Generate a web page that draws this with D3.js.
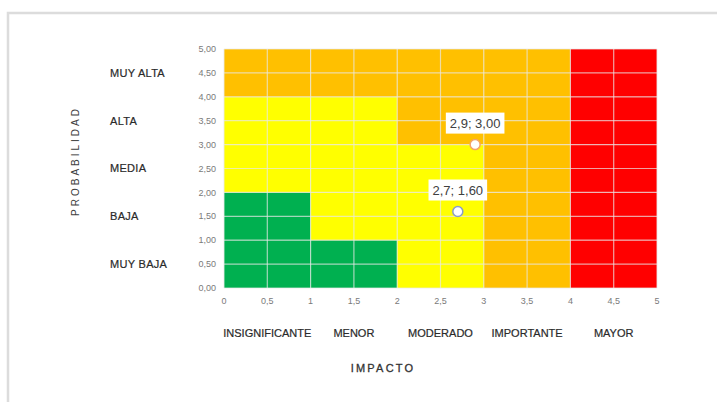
<!DOCTYPE html>
<html lang="es">
<head>
    <meta charset="UTF-8">
    <title>Matriz de riesgo</title>
    <script src="https://d3js.org/d3.v7.min.js"></script>
    <style>
        body { margin: 0; background: #fff; }
    </style>
</head>
<body>
<div id="chart"></div>
<script>
    // data ----------------------------------------------------------
    const probabilidad = ["MUY BAJA", "BAJA", "MEDIA", "ALTA", "MUY ALTA"];
    const impacto = ["INSIGNIFICANTE", "MENOR", "MODERADO", "IMPORTANTE", "MAYOR"];
    const xTicks = [0, 0.5, 1, 1.5, 2, 2.5, 3, 3.5, 4, 4.5, 5];
    const yTicks = [0, 0.5, 1, 1.5, 2, 2.5, 3, 3.5, 4, 4.5, 5];
    // risk level per cell, rows = probabilidad (bottom->top), cols = impacto
    const zonas = [
        ["bajo", "bajo", "medio", "alto", "extremo"],
        ["bajo", "medio", "medio", "alto", "extremo"],
        ["medio", "medio", "medio", "alto", "extremo"],
        ["medio", "medio", "alto", "alto", "extremo"],
        ["alto", "alto", "alto", "alto", "extremo"]
    ];
    const puntosX = [2.9, 2.7];
    const puntosY = [3.00, 1.60];
    const puntosColor = ["#f4a468", "#8a9cc8"];

    const colores = {bajo: "#00b050", medio: "#ffff00", alto: "#ffc000", extremo: "#ff0000"};

    const es = d3.formatLocale({decimal: ",", thousands: ".", grouping: [3], currency: ["", "€"]});
    const f2 = es.format(".2f");
    const f1 = es.format(".1f");
    const fx = v => Number.isInteger(v) ? String(v) : es.format(".1f")(v);

    // svg -----------------------------------------------------------
    const width = 717, height = 402;
    const svg = d3.select("#chart").append("svg")
        .attr("width", width)
        .attr("height", height);

    // outer frame
    svg.append("path")
        .attr("d", `M8,${height} L8,13 L${width},13`)
        .attr("fill", "none")
        .attr("stroke", "#dcdcdc")
        .attr("stroke-width", 2.5);

    const plot = {left: 224, right: 657, top: 49, bottom: 288};
    const x = d3.scaleLinear().domain([0, 5]).range([plot.left, plot.right]);
    const y = d3.scaleLinear().domain([0, 5]).range([plot.bottom, plot.top]);

    // cells
    zonas.forEach((fila, i) => {
        fila.forEach((z, j) => {
            svg.append("rect")
                .attr("x", x(j))
                .attr("y", y(i + 1))
                .attr("width", x(j + 1) - x(j))
                .attr("height", y(i) - y(i + 1))
                .attr("fill", colores[z]);
        });
    });

    // grid
    xTicks.forEach(t => {
        svg.append("line")
            .attr("x1", x(t)).attr("x2", x(t))
            .attr("y1", y(0)).attr("y2", y(5))
            .attr("stroke", "#e8e8e8")
            .attr("stroke-opacity", 0.7)
            .attr("stroke-width", 1.2);
    });
    yTicks.forEach(t => {
        svg.append("line")
            .attr("x1", x(0)).attr("x2", x(5))
            .attr("y1", y(t)).attr("y2", y(t))
            .attr("stroke", "#e8e8e8")
            .attr("stroke-opacity", 0.7)
            .attr("stroke-width", 1.2);
    });

    // tick labels
    yTicks.forEach(t => {
        svg.append("text")
            .attr("x", plot.left - 8)
            .attr("y", y(t))
            .attr("dy", "0.35em")
            .attr("text-anchor", "end")
            .attr("font-family", "Liberation Sans, Arial, sans-serif")
            .attr("font-size", 9)
            .attr("fill", "#7a7a7a")
            .text(f2(t));
    });
    xTicks.forEach(t => {
        svg.append("text")
            .attr("x", x(t))
            .attr("y", plot.bottom + 16)
            .attr("text-anchor", "middle")
            .attr("font-family", "Liberation Sans, Arial, sans-serif")
            .attr("font-size", 9)
            .attr("fill", "#7a7a7a")
            .text(fx(t));
    });

    // category labels
    probabilidad.forEach((p, i) => {
        svg.append("text")
            .attr("x", 110)
            .attr("y", y(i + 0.5))
            .attr("dy", "0.35em")
            .attr("font-family", "Liberation Sans, Arial, sans-serif")
            .attr("font-size", 11)
            .attr("letter-spacing", 0.3)
            .attr("fill", "#2a2a2a")
            .attr("stroke", "#2a2a2a")
            .attr("stroke-width", 0.2)
            .text(p);
    });
    impacto.forEach((c, j) => {
        svg.append("text")
            .attr("x", x(j + 0.5))
            .attr("y", 337)
            .attr("text-anchor", "middle")
            .attr("font-family", "Liberation Sans, Arial, sans-serif")
            .attr("font-size", 11)
            .attr("fill", "#2a2a2a")
            .attr("stroke", "#2a2a2a")
            .attr("stroke-width", 0.2)
            .text(c);
    });

    // axis titles
    svg.append("text")
        .attr("x", 383)
        .attr("y", 372)
        .attr("text-anchor", "middle")
        .attr("font-family", "Liberation Sans, Arial, sans-serif")
        .attr("font-size", 11)
        .attr("letter-spacing", 2.2)
        .attr("fill", "#333")
        .attr("stroke", "#333")
        .attr("stroke-width", 0.3)
        .text("IMPACTO");
    svg.append("text")
        .attr("transform", "translate(79,161) rotate(-90)")
        .attr("text-anchor", "middle")
        .attr("font-family", "Liberation Sans, Arial, sans-serif")
        .attr("font-size", 10)
        .attr("letter-spacing", 3)
        .attr("fill", "#404040")
        .text("PROBABILIDAD");

    // points + labels
    puntosX.forEach((px, i) => {
        const cx = x(px), cy = y(puntosY[i]);
        svg.append("circle")
            .attr("cx", cx).attr("cy", cy)
            .attr("r", 5)
            .attr("fill", "#fff")
            .attr("stroke", puntosColor[i])
            .attr("stroke-width", 1.5);

        const g = svg.append("g");
        const txt = g.append("text")
            .attr("x", cx)
            .attr("y", cy - 17)
            .attr("text-anchor", "middle")
            .attr("font-family", "Liberation Sans, Arial, sans-serif")
            .attr("font-size", 13)
            .attr("fill", "#404040")
            .text(f1(px) + "; " + f2(puntosY[i]));
        const bb = txt.node().getBBox();
        g.insert("rect", "text")
            .attr("x", bb.x - 4)
            .attr("y", bb.y - 3)
            .attr("width", bb.width + 8)
            .attr("height", bb.height + 6)
            .attr("fill", "#fff");
    });
</script>
</body>
</html>
